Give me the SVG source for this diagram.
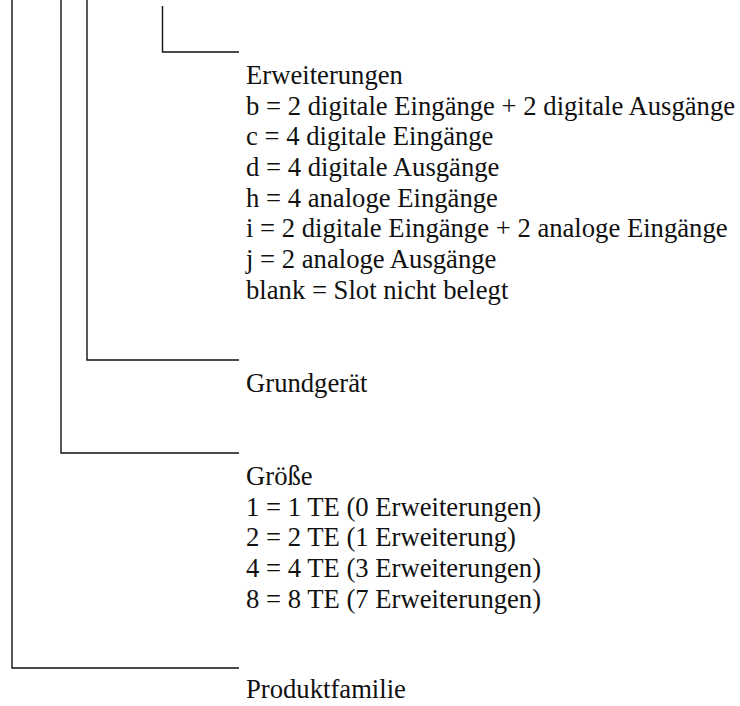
<svg xmlns="http://www.w3.org/2000/svg" width="740" height="706" viewBox="0 0 740 706">
<style>
.c{fill:none;stroke:#111;stroke-width:1.4}
</style>
<rect width="740" height="706" fill="#fff"/>
<g id="connectors">
<polyline class="c" points="12,0 12,668 239,668"/>
<polyline class="c" points="61,0 61,453 239,453"/>
<polyline class="c" points="87,0 87,360 239,360"/>
<polyline class="c" points="162.5,6 162.5,52 239,52"/>
</g>
<g font-family="'Liberation Serif', 'Times New Roman', Times, serif" font-size="26.67" fill="#111">
<g id="erweiterungen">
<text x="246" y="84">Erweiterungen</text>
<text x="246" y="114.7">b = 2 digitale Eingänge + 2 digitale Ausgänge</text>
<text x="246" y="145.3">c = 4 digitale Eingänge</text>
<text x="246" y="176">d = 4 digitale Ausgänge</text>
<text x="246" y="206.7">h = 4 analoge Eingänge</text>
<text x="246" y="237.3">i = 2 digitale Eingänge + 2 analoge Eingänge</text>
<text x="246" y="268">j = 2 analoge Ausgänge</text>
<text x="246" y="298.7">blank = Slot nicht belegt</text>
</g>
<g id="grundgeraet">
<text x="246" y="392">Grundgerät</text>
</g>
<g id="groesse">
<text x="246" y="485">Größe</text>
<text x="246" y="515.7">1 = 1 TE (0 Erweiterungen)</text>
<text x="246" y="546.3">2 = 2 TE (1 Erweiterung)</text>
<text x="246" y="577">4 = 4 TE (3 Erweiterungen)</text>
<text x="246" y="607.7">8 = 8 TE (7 Erweiterungen)</text>
</g>
<g id="produktfamilie">
<text x="246" y="698">Produktfamilie</text>
</g>
</g>
</svg>
